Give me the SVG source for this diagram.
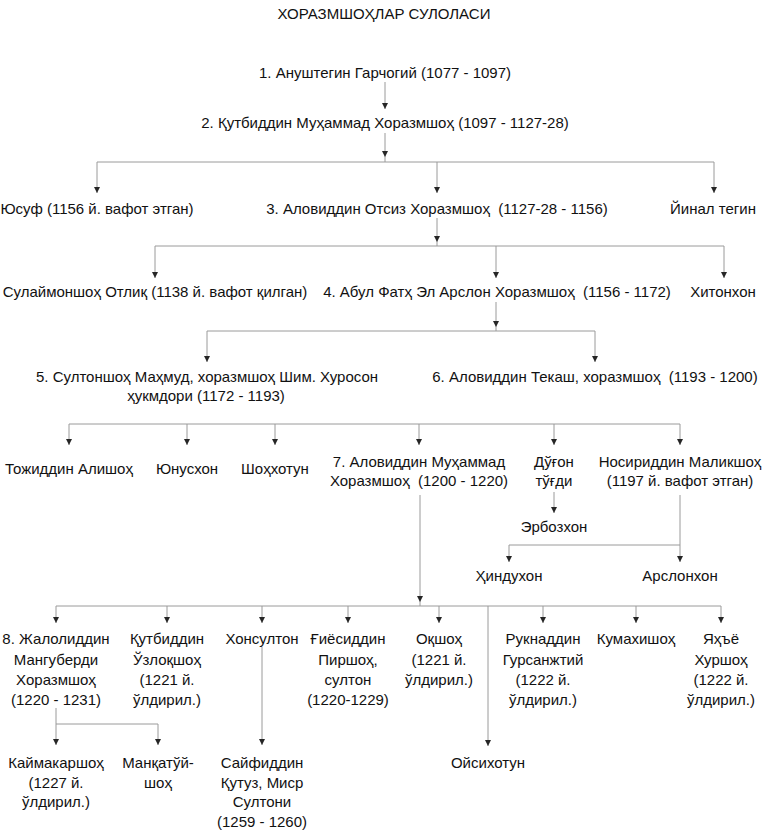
<svg xmlns="http://www.w3.org/2000/svg" width="768" height="831" viewBox="0 0 768 831">
<defs>
<marker id="ah" viewBox="0 0 6 6" refX="6" refY="3" markerWidth="6" markerHeight="6" markerUnits="userSpaceOnUse" orient="auto">
<path d="M0,0 L6,3 L0,6 z" fill="#262626"/>
</marker>
<style>
text{font-family:"Liberation Sans","Noto Sans",Arial,sans-serif;font-size:15px;fill:#111;text-anchor:middle}
.c path{fill:none;stroke:#9a9a9a;stroke-width:1}
.c path.a{marker-end:url(#ah)}
</style>
</defs>
<rect width="768" height="831" fill="#fff"/>
<g id="title"><text x="384" y="19">ХОРАЗМШОҲЛАР СУЛОЛАСИ</text></g>
<g class="c" id="connectors">
<path class="a" d="M385,82 V109"/>
<path class="a" d="M385,133 V157"/>
<path d="M385,157 V162 M97,162 H714"/>
<path class="a" d="M97,162 V193"/>
<path class="a" d="M437,162 V193"/>
<path class="a" d="M714,162 V193"/>
<path class="a" d="M437,218 V242"/>
<path d="M437,242 V246 M155,246 H724"/>
<path class="a" d="M155,246 V278"/>
<path class="a" d="M496,246 V278"/>
<path class="a" d="M724,246 V278"/>
<path class="a" d="M496,302 V327"/>
<path d="M496,327 V331 M207,331 H595"/>
<path class="a" d="M207,331 V362"/>
<path class="a" d="M595,331 V362"/>
<path d="M69,424 H680"/>
<path class="a" d="M69,424 V445"/>
<path class="a" d="M187,424 V445"/>
<path class="a" d="M275,424 V445"/>
<path class="a" d="M419,424 V445"/>
<path class="a" d="M554,424 V445"/>
<path class="a" d="M680,424 V445"/>
<path class="a" d="M554,492 V513"/>
<path class="a" d="M680,495 V562"/>
<path d="M509,545 H680"/>
<path class="a" d="M509,545 V562"/>
<path class="a" d="M420,495 V602"/>
<path d="M420,602 V606 M56,606 H721"/>
<path class="a" d="M56,606 V623"/>
<path class="a" d="M167,606 V623"/>
<path class="a" d="M262,606 V623"/>
<path class="a" d="M348,606 V623"/>
<path class="a" d="M439,606 V623"/>
<path class="a" d="M488,606 V746"/>
<path class="a" d="M543,606 V623"/>
<path class="a" d="M636,606 V623"/>
<path class="a" d="M721,606 V623"/>
<path class="a" d="M56,708 V745"/>
<path d="M56,724 H158"/>
<path class="a" d="M158,724 V745"/>
<path class="a" d="M262,647 V745"/>
</g>
<g id="n1"><text x="385" y="78">1. Ануштегин Гарчогий (1077 - 1097)</text></g>
<g id="n2"><text x="385" y="128">2. Қутбиддин Муҳаммад Хоразмшоҳ (1097 - 1127-28)</text></g>
<g id="yusuf"><text x="97" y="214">Юсуф (1156 й. вафот этган)</text></g>
<g id="n3"><text x="437" y="214" xml:space="preserve">3. Аловиддин Отсиз Хоразмшоҳ  (1127-28 - 1156)</text></g>
<g id="yinal"><text x="713" y="214">Йинал тегин</text></g>
<g id="sulaymon"><text x="155" y="297">Сулаймоншоҳ Отлиқ (1138 й. вафот қилган)</text></g>
<g id="n4"><text x="497" y="297" xml:space="preserve">4. Абул Фатҳ Эл Арслон Хоразмшоҳ  (1156 - 1172)</text></g>
<g id="xitonxon"><text x="723" y="297">Хитонхон</text></g>
<g id="n5"><text x="207" y="382">5. Султоншоҳ Маҳмуд, хоразмшоҳ Шим. Хуросон</text><text x="206" y="401">ҳукмдори (1172 - 1193)</text></g>
<g id="n6"><text x="595" y="382" xml:space="preserve">6. Аловиддин Текаш, хоразмшоҳ  (1193 - 1200)</text></g>
<g id="tojiddin"><text x="69" y="474">Тожиддин Алишоҳ</text></g>
<g id="yunusxon"><text x="187" y="474">Юнусхон</text></g>
<g id="shohxotun"><text x="275" y="474">Шоҳхотун</text></g>
<g id="n7"><text x="419" y="467">7. Аловиддин Муҳаммад</text><text x="419" y="486" xml:space="preserve">Хоразмшоҳ  (1200 - 1220)</text></g>
<g id="dugon"><text x="554" y="467">Дўғон</text><text x="554" y="486">тўғди</text></g>
<g id="nosiriddin"><text x="680" y="467">Носириддин Маликшоҳ</text><text x="680" y="486">(1197 й. вафот этган)</text></g>
<g id="erbozxon"><text x="554" y="532">Эрбозхон</text></g>
<g id="hinduxon"><text x="509" y="581">Ҳиндухон</text></g>
<g id="arslonxon"><text x="680" y="581">Арслонхон</text></g>
<g id="n8"><text x="56" y="644">8. Жалолиддин</text><text x="56" y="665">Мангуберди</text><text x="56" y="685">Хоразмшоҳ</text><text x="56" y="705">(1220 - 1231)</text></g>
<g id="qutbiddin"><text x="167" y="644">Қутбиддин</text><text x="167" y="665">Ўзлоқшоҳ</text><text x="167" y="685">(1221 й.</text><text x="167" y="705">ўлдирил.)</text></g>
<g id="xonsulton"><text x="262" y="644">Хонсултон</text></g>
<g id="giyosiddin"><text x="348" y="644">Ғиёсиддин</text><text x="348" y="665">Пиршоҳ,</text><text x="348" y="685">султон</text><text x="348" y="705">(1220-1229)</text></g>
<g id="oqshoh"><text x="439" y="644">Оқшоҳ</text><text x="439" y="665">(1221 й.</text><text x="439" y="685">ўлдирил.)</text></g>
<g id="ruknaddin"><text x="543" y="644">Рукнаддин</text><text x="543" y="665">Гурсанжтий</text><text x="543" y="685">(1222 й.</text><text x="543" y="705">ўлдирил.)</text></g>
<g id="kumaxishoh"><text x="636" y="644">Кумахишоҳ</text></g>
<g id="yahyo"><text x="721" y="644">Яҳъё</text><text x="721" y="665">Хуршоҳ</text><text x="721" y="685">(1222 й.</text><text x="721" y="705">ўлдирил.)</text></g>
<g id="kaymakar"><text x="56" y="768">Каймакаршоҳ</text><text x="56" y="788">(1227 й.</text><text x="56" y="807">ўлдирил.)</text></g>
<g id="manqatuy"><text x="158" y="768">Манқатўй-</text><text x="158" y="788">шоҳ</text></g>
<g id="sayfiddin"><text x="262" y="768">Сайфиддин</text><text x="262" y="788">Қутуз, Миср</text><text x="262" y="807">Султони</text><text x="262" y="827">(1259 - 1260)</text></g>
<g id="oysixotun"><text x="488" y="768">Ойсихотун</text></g>
</svg>
